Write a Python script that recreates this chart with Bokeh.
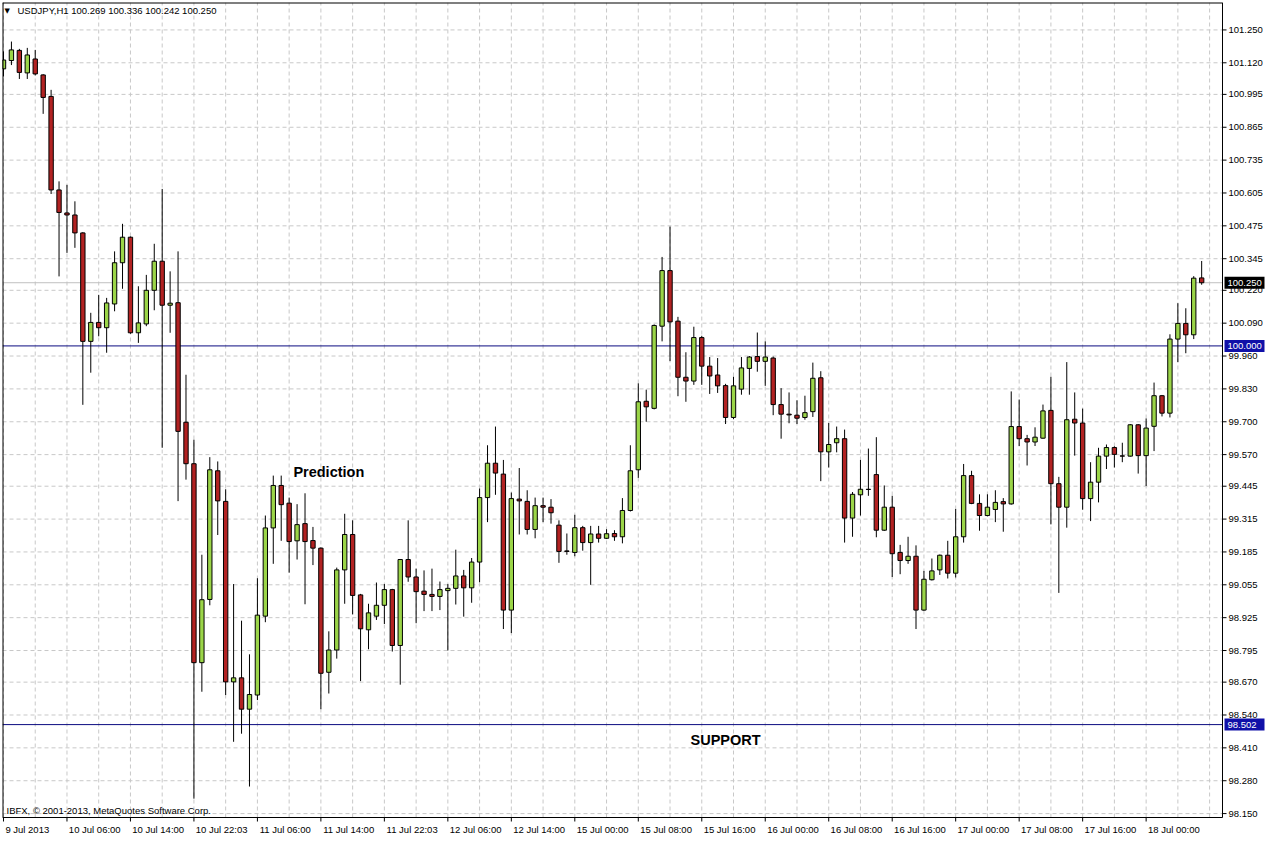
from bokeh.plotting import figure
from bokeh.models import ColumnDataSource, FixedTicker, Label
from bokeh.core.properties import value
from bokeh.embed import file_html
from bokeh.resources import INLINE

# ---------------- data (USDJPY H1) ----------------
open_ = [101.096, 101.129, 101.169, 101.080, 101.135, 101.072, 100.987, 100.617, 100.526, 100.518,
         100.447, 100.018, 100.093, 100.072, 100.166, 100.329, 100.430, 100.052, 100.087, 100.220,
         100.335, 100.161, 100.171, 99.698, 99.534, 98.747, 98.997, 99.506, 99.385, 98.671,
         98.687, 98.563, 98.619, 98.931, 99.280, 99.448, 99.378, 99.229, 99.297, 99.230,
         99.200, 98.709, 98.797, 99.114, 99.254, 99.015, 98.877, 98.931, 98.974, 99.036,
         98.815, 99.155, 99.086, 99.030, 99.017, 99.009, 99.032, 99.041, 99.090, 99.043,
         99.145, 99.400, 99.536, 99.493, 98.955, 99.394, 99.385, 99.274, 99.368, 99.362,
         99.291, 99.189, 99.183, 99.281, 99.222, 99.256, 99.239, 99.258, 99.245, 99.349,
         99.510, 99.781, 99.753, 100.078, 100.298, 100.098, 99.876, 99.861, 100.033, 99.920,
         99.885, 99.843, 99.717, 99.829, 99.911, 99.958, 99.939, 99.952, 99.768, 99.730,
         99.726, 99.717, 99.740, 99.874, 99.581, 99.617, 99.633, 99.319, 99.411, 99.433,
         99.491, 99.271, 99.362, 99.183, 99.151, 99.168, 98.955, 99.075, 99.114, 99.172,
         99.101, 99.245, 99.487, 99.377, 99.329, 99.353, 99.384, 99.375, 99.681, 99.633,
         99.620, 99.635, 99.745, 99.455, 99.362, 99.710, 99.695, 99.396, 99.461, 99.564,
         99.598, 99.565, 99.564, 99.688, 99.566, 99.682, 99.803, 99.734, 100.027, 100.089,
         100.044, 100.269]
high = [101.165, 101.204, 101.175, 101.179, 101.171, 101.075, 101.013, 100.651, 100.637, 100.572,
        100.450, 100.131, 100.202, 100.190, 100.374, 100.483, 100.433, 100.236, 100.281, 100.404,
        100.621, 100.295, 100.374, 99.886, 99.629, 99.174, 99.560, 99.543, 99.433, 99.058,
        98.913, 98.780, 99.081, 99.329, 99.487, 99.487, 99.400, 99.374, 99.417, 99.284,
        99.203, 98.871, 99.123, 99.336, 99.310, 99.019, 98.980, 99.064, 99.058, 99.039,
        99.157, 99.310, 99.119, 99.112, 99.119, 99.068, 99.058, 99.194, 99.114, 99.161,
        99.436, 99.607, 99.681, 99.549, 99.420, 99.517, 99.429, 99.400, 99.400, 99.394,
        99.310, 99.258, 99.332, 99.288, 99.288, 99.288, 99.275, 99.271, 99.398, 99.607,
        99.852, 99.827, 100.085, 100.352, 100.472, 100.115, 99.975, 100.076, 100.040, 99.956,
        99.952, 99.850, 99.878, 99.956, 99.960, 100.053, 100.018, 99.958, 99.833, 99.816,
        99.785, 99.803, 99.934, 99.900, 99.695, 99.681, 99.669, 99.422, 99.549, 99.594,
        99.639, 99.448, 99.407, 99.213, 99.245, 99.211, 99.110, 99.159, 99.175, 99.229,
        99.355, 99.533, 99.506, 99.413, 99.413, 99.429, 99.398, 99.820, 99.788, 99.648,
        99.678, 99.768, 99.878, 99.482, 99.936, 99.816, 99.752, 99.540, 99.597, 99.610,
        99.603, 99.617, 99.691, 99.691, 99.713, 99.855, 99.806, 100.046, 100.169, 100.149,
        100.276, 100.336]
low = [101.066, 101.111, 101.056, 101.056, 101.070, 100.918, 100.601, 100.275, 100.368, 100.388,
       99.767, 99.894, 100.038, 99.973, 100.137, 100.226, 100.048, 100.012, 100.078, 100.141,
       99.597, 100.052, 99.386, 99.471, 98.209, 98.632, 98.974, 99.252, 98.619, 98.434,
       98.466, 98.257, 98.599, 98.907, 99.138, 99.229, 99.103, 99.155, 98.978, 99.133,
       98.563, 98.625, 98.763, 98.980, 98.938, 98.674, 98.800, 98.916, 98.900, 98.791,
       98.660, 99.067, 98.903, 98.951, 98.951, 98.955, 98.795, 98.977, 98.929, 98.984,
       99.065, 99.303, 99.411, 98.880, 98.864, 99.254, 99.254, 99.239, 99.303, 99.297,
       99.142, 99.174, 99.168, 99.190, 99.055, 99.222, 99.236, 99.229, 99.219, 99.345,
       99.478, 99.700, 99.749, 100.018, 99.940, 99.801, 99.779, 99.846, 99.846, 99.810,
       99.814, 99.691, 99.710, 99.807, 99.807, 99.898, 99.842, 99.726, 99.633, 99.694,
       99.691, 99.708, 99.719, 99.465, 99.519, 99.579, 99.222, 99.245, 99.329, 99.407,
       99.243, 99.268, 99.086, 99.097, 99.138, 98.880, 98.952, 99.072, 99.094, 99.080,
       99.084, 99.222, 99.374, 99.269, 99.326, 99.303, 99.265, 99.372, 99.604, 99.527,
       99.604, 99.633, 99.294, 99.023, 99.281, 99.566, 99.352, 99.307, 99.381, 99.513,
       99.519, 99.540, 99.562, 99.495, 99.446, 99.584, 99.721, 99.717, 99.936, 99.971,
       100.027, 100.242]
close = [101.131, 101.171, 101.082, 101.151, 101.076, 100.983, 100.617, 100.528, 100.518, 100.447,
         100.018, 100.093, 100.072, 100.170, 100.329, 100.430, 100.052, 100.091, 100.220, 100.335,
         100.161, 100.169, 99.662, 99.534, 98.747, 98.996, 99.510, 99.387, 98.671, 98.687,
         98.563, 98.621, 98.935, 99.280, 99.448, 99.372, 99.226, 99.293, 99.226, 99.200,
         98.705, 98.797, 99.114, 99.254, 99.013, 98.881, 98.944, 98.974, 99.036, 98.815,
         99.155, 99.086, 99.028, 99.017, 99.009, 99.036, 99.041, 99.090, 99.043, 99.145,
         99.400, 99.536, 99.497, 98.955, 99.396, 99.387, 99.274, 99.368, 99.362, 99.340,
         99.187, 99.187, 99.281, 99.222, 99.256, 99.239, 99.257, 99.245, 99.349, 99.506,
         99.779, 99.759, 100.081, 100.298, 100.095, 99.876, 99.861, 100.033, 99.920, 99.881,
         99.842, 99.717, 99.842, 99.913, 99.956, 99.939, 99.956, 99.768, 99.730, 99.727,
         99.714, 99.736, 99.872, 99.581, 99.610, 99.633, 99.319, 99.413, 99.433, 99.432,
         99.271, 99.362, 99.178, 99.151, 99.168, 98.955, 99.077, 99.110, 99.172, 99.101,
         99.245, 99.487, 99.377, 99.329, 99.362, 99.381, 99.375, 99.681, 99.633, 99.620,
         99.639, 99.743, 99.455, 99.362, 99.708, 99.695, 99.396, 99.461, 99.564, 99.598,
         99.571, 99.564, 99.688, 99.566, 99.675, 99.803, 99.734, 100.027, 100.089, 100.044,
         100.268, 100.250]

y_ticks = [101.250, 101.120, 100.995, 100.865, 100.735, 100.605, 100.475, 100.345, 100.220,
           100.090, 99.960, 99.830, 99.700, 99.570, 99.445, 99.315, 99.185, 99.055, 98.925,
           98.795, 98.670, 98.540, 98.410, 98.280, 98.150]
time_labels = ["9 Jul 2013", "10 Jul 06:00", "10 Jul 14:00", "10 Jul 22:03", "11 Jul 06:00",
               "11 Jul 14:00", "11 Jul 22:03", "12 Jul 06:00", "12 Jul 14:00", "15 Jul 00:00",
               "15 Jul 08:00", "15 Jul 16:00", "16 Jul 00:00", "16 Jul 08:00", "16 Jul 16:00",
               "17 Jul 00:00", "17 Jul 08:00", "17 Jul 16:00", "18 Jul 00:00"]
label_step = 8
grid_step = 4
header_text = "USDJPY,H1  100.269 100.336 100.242 100.250"
copyright_text = "IBFX, \u00a9 2001-2013, MetaQuotes Software Corp."
bid_price = 100.250
level_round = 100.000
level_support = 98.502

# ---------------- geometry ----------------
FONT = "Liberation Sans"
CW, CH = 1220, 815          # chart area (inside the black border), px
AXIS_PX = 44                # price-scale strip on the right, px
PAD_PX = 6                  # room under the border for the lowest price label / time ticks
x_start, chart_right = -0.125, 153.625
y_start, y_end = 98.1345, 101.3585
ppu = CW / (chart_right - x_start)           # px per bar
ppy = CH / (y_end - y_start)                 # px per yen
x_end = chart_right + AXIS_PX / ppu
y_low = y_start - PAD_PX / ppy

GREEN = "#9bd548"
RED = "#b22222"
NAVY = "#0b0b80"
BOXBLUE = "#1010a8"
GRID = "#c8c8c8"

n = len(close)
src = ColumnDataSource(dict(
    x=list(range(n)),
    high=high,
    low=low,
    top=[max(o, c) for o, c in zip(open_, close)],
    bottom=[min(o, c) for o, c in zip(open_, close)],
    color=[GREEN if c >= o else RED for o, c in zip(open_, close)],
))

p = figure(frame_width=CW + AXIS_PX, frame_height=CH + PAD_PX,
           x_range=(x_start, x_end), y_range=(y_low, y_end),
           y_axis_location=None, output_backend="svg", toolbar_location=None,
           min_border_left=2, min_border_top=2, min_border_right=0, min_border_bottom=0,
           background_fill_color="white", border_fill_color="white")
p.outline_line_color = None
p.grid.visible = False

# ---- dashed grid, limited to the chart area ----
gx = list(range(0, n + 1, grid_step))
p.segment(x0=gx, y0=[y_start] * len(gx), x1=gx, y1=[y_end] * len(gx),
          line_color=GRID, line_dash="4 3", line_width=1)
p.segment(x0=[x_start] * len(y_ticks), y0=y_ticks, x1=[chart_right] * len(y_ticks), y1=y_ticks,
          line_color=GRID, line_dash="4 3", line_width=1)

# ---- horizontal price lines ----
p.segment(x0=[x_start], y0=[bid_price], x1=[chart_right], y1=[bid_price], line_color="#c0c0c0", line_width=1)
p.segment(x0=[x_start] * 2, y0=[level_round, level_support], x1=[chart_right] * 2,
          y1=[level_round, level_support], line_color=NAVY, line_width=1)

# ---- candles ----
p.segment(x0="x", y0="low", x1="x", y1="high", source=src, line_color="black", line_width=1)
p.vbar(x="x", width=0.55, top="top", bottom="bottom", source=src,
       fill_color="color", line_color="black", line_width=1)

# ---- chart border ----
p.segment(x0=[x_start], y0=[y_start], x1=[chart_right], y1=[y_start], line_color="black", line_width=1)
p.segment(x0=[x_start], y0=[y_start], x1=[x_start], y1=[y_end], line_color="black", line_width=2)
p.segment(x0=[x_start], y0=[y_end], x1=[chart_right], y1=[y_end], line_color="black", line_width=2)
p.segment(x0=[chart_right], y0=[y_start], x1=[chart_right], y1=[y_end], line_color="black", line_width=1)

# ---- time tick marks under the border ----
label_idx = [i * label_step for i in range(len(time_labels))]
tick_dy = 4 / ppy
p.segment(x0=label_idx, y0=[y_start] * len(label_idx), x1=label_idx,
          y1=[y_start - tick_dy] * len(label_idx), line_color="black", line_width=1)

# ---- right price scale ----
tick_len = 4 / ppu
p.segment(x0=[chart_right] * len(y_ticks), y0=y_ticks, x1=[chart_right + tick_len] * len(y_ticks),
          y1=y_ticks, line_color="black", line_width=1)
p.text(x=[chart_right] * len(y_ticks), y=y_ticks, text=["%.3f" % t for t in y_ticks],
       x_offset=6, text_align="left", text_baseline="middle", text_color="black",
       text_font=value(FONT), text_font_size=value("9.5px"))

# highlighted price boxes
box_levels = [bid_price, level_round, level_support]
box_colors = ["black", BOXBLUE, BOXBLUE]
box_cx = chart_right + 22 / ppu
p.rect(x=[box_cx] * 3, y=box_levels, width=40, height=12, width_units="screen",
       height_units="screen", fill_color=box_colors, line_color=None)
p.text(x=[chart_right] * 3, y=box_levels, text=["%.3f" % v for v in box_levels],
       x_offset=5, text_align="left", text_baseline="middle", text_color="white",
       text_font=value(FONT), text_font_size=value("9.5px"))

# ---- bottom time axis: labels start at their bar ----
centers = []
for idx, lab in zip(label_idx, time_labels):
    half_units = (4.3 * len(lab) / 2.0 + 2) / ppu
    centers.append(idx + round(half_units * 4) / 4.0)
p.xaxis.ticker = FixedTicker(ticks=centers)
p.xaxis.major_label_overrides = {c: lab for c, lab in zip(centers, time_labels)}
p.xaxis.axis_line_color = None
p.xaxis.major_tick_line_color = None
p.xaxis.minor_tick_line_color = None
p.xaxis.major_tick_out = 0
p.xaxis.major_tick_in = 0
p.xaxis.major_label_standoff = 0
p.xaxis.major_label_text_font = FONT
p.xaxis.major_label_text_font_size = "9.5px"
p.xaxis.major_label_text_color = "black"

# ---- header & footer texts inside the chart ----
p.add_layout(Label(x=x_start, y=y_end, x_offset=2, y_offset=-8, text="\u25bc",
                   text_baseline="middle", text_font="DejaVu Sans", text_font_size="7px",
                   text_color="black"))
p.add_layout(Label(x=x_start, y=y_end, x_offset=15, y_offset=-8, text=header_text,
                   text_baseline="middle", text_font=FONT, text_font_size="9.5px",
                   text_color="black"))
p.add_layout(Label(x=x_start, y=y_start, x_offset=4, y_offset=7, text=copyright_text,
                   text_baseline="middle", text_font=FONT, text_font_size="9.5px",
                   text_color="black"))

# ---- annotations ----
p.add_layout(Label(x=41, y=99.502, text="Prediction", text_align="center", text_baseline="middle",
                   text_font=FONT, text_font_style="bold", text_font_size="14.5px",
                   text_color="black"))
p.add_layout(Label(x=91, y=98.44, text="SUPPORT", text_align="center", text_baseline="middle",
                   text_font=FONT, text_font_style="bold", text_font_size="14.5px",
                   text_color="black"))

html = file_html(p, INLINE, title="USDJPY,H1")
open("out.html", "w").write(html)
